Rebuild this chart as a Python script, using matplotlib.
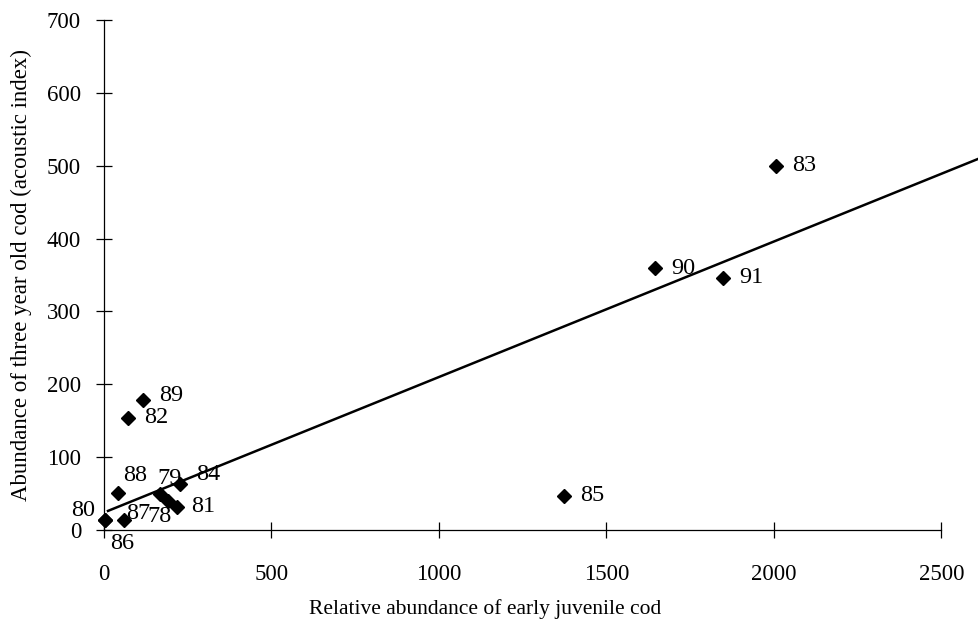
import numpy as np
import matplotlib
matplotlib.use("Agg")
import matplotlib.pyplot as plt
from matplotlib.transforms import offset_copy

# year labels and values
years = ['79', '78', '81', '80', '86', '87', '88', '82', '89', '84', '85', '90', '91', '83']
juvenile = [167, 191, 218, 3, 3, 60, 42, 72, 116, 227, 1373, 1645, 1848, 2006]
three_year = [49, 40, 32, 14, 14, 14, 51, 154, 178, 63, 47, 359, 346, 500]

# label offsets in pixels (dx, dy), and horizontal alignment
label_dx = [10, -8, 14, -10, 5, 2, 5, 16, 16, 16, 16, 16, 16, 16]
label_dy = [16, -16, 0, 9, -24, 6, 17, 0, 5, 10, 0, 0, 0, 0]
label_ha = ['center', 'center', 'left', 'right', 'left', 'left', 'left',
            'left', 'left', 'left', 'left', 'left', 'left', 'left']

# regression line as drawn
fit_slope = 0.186
fit_intercept = 24
fit_x = [12, 2612]

xticks = [0, 500, 1000, 1500, 2000, 2500]
yticks = [0, 100, 200, 300, 400, 500, 600, 700]

plt.rcParams['font.family'] = ['Liberation Serif', 'DejaVu Serif']

fig = plt.figure(figsize=(9.79, 6.31), dpi=100)
ax = fig.add_axes([104 / 979, 1 - 530 / 631, 1 - 104 / 979, 510 / 631])

ax.set_xlim(0, 2612)
ax.set_ylim(0, 700)

fx = np.array(fit_x)
ax.plot(fx, fit_intercept + fit_slope * fx, color='black', lw=1.8, clip_on=False, zorder=2)

ax.plot(juvenile, three_year, 'D', color='black', markersize=7.5, clip_on=False, zorder=3)

for yr, xv, yv, dx, dy, ha in zip(years, juvenile, three_year, label_dx, label_dy, label_ha):
    tr = offset_copy(ax.transData, fig=fig, x=dx, y=dy, units='dots')
    ax.text(xv, yv, yr, transform=tr, ha=ha, va='center', fontsize=17.5, clip_on=False)

ax.spines['top'].set_visible(False)
ax.spines['right'].set_visible(False)
ax.spines['bottom'].set_bounds(0, 2500)
ax.spines['left'].set_linewidth(0.9)
ax.spines['bottom'].set_linewidth(0.9)

ax.set_xticks(xticks)
ax.set_yticks(yticks)
ax.tick_params(axis='both', direction='inout', length=11, width=0.9, labelsize=16.5)
ax.tick_params(axis='x', pad=19)
ax.tick_params(axis='y', pad=11)

ax.set_xlabel('Relative abundance of early juvenile cod', fontsize=15.5)
ax.set_ylabel('Abundance of three year old cod (acoustic index)', fontsize=16.5)
ax.xaxis.set_label_coords((485 - 104) / 875, (530 - 609) / 510)
ax.yaxis.set_label_coords((21 - 104) / 875, 0.5)
ax.xaxis.label.set_va('center')
ax.yaxis.label.set_va('center')

fig.savefig('out.png', dpi=100)
